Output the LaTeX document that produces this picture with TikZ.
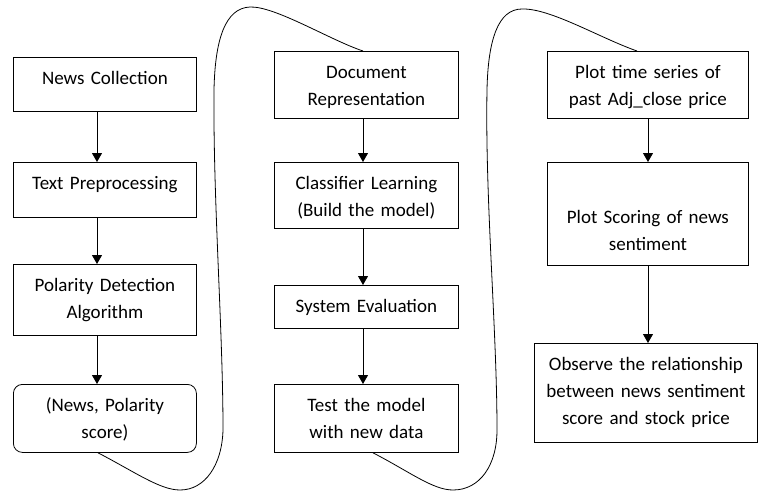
\documentclass[tikz,border=0pt]{standalone}
\usepackage{fontspec}
\setmainfont{Carlito}
\usetikzlibrary{arrows.meta}
\tikzset{
	flowbox/.style={draw, line width=0.8pt, inner xsep=0pt, inner ysep=0pt, align=center, text height=27.5pt, font=\fontsize{19}{26.7}\selectfont},
	flow/.style={-{Triangle[length=9pt,width=10pt]}, line width=0.8pt},
	loopline/.style={line width=0.8pt}
}
\newcommand{\flowbox}[7][]{
	\pgfmathsetmacro{\boxdepth}{#6-27.5}
	\node[flowbox, text width=#5pt, text depth=\boxdepth pt, #1, anchor=north west] (#2) at (#3, -#4) {#7};
}

\begin{document}
\begin{tikzpicture}[x=1pt, y=1pt]
			\useasboundingbox (0,0) rectangle (758,-491);
			% first column
			\flowbox{nc}{13}{57}{183}{54}{News Collection}
			\flowbox{tp}{13}{162}{183}{55}{Text Preprocessing}
			\flowbox{pd}{13}{264}{183}{71}{Polarity Detection\\Algorithm}
			\flowbox[rounded corners=9pt]{ns}{13}{384}{183}{68}{(News, Polarity\\score)}
			% second column
			\flowbox{dr}{274}{51}{184}{67}{Document\\Representation}
			\flowbox{cl}{274}{162}{184}{66}{Classifier Learning\\(Build the model)}
			\flowbox{se}{274}{285}{184}{43}{System Evaluation}
			\flowbox{tm}{274}{384}{184}{68}{Test the model\\with new data}
			% third column
			\flowbox{pt}{547}{51}{201}{67}{Plot time series of\\past Adj\_close price}
			\flowbox[text height=61.5pt, text depth=41.5pt]{ps}{547}{162}{201}{103}{Plot Scoring of news\\sentiment}
			\flowbox{ob}{534}{343}{223}{99}{Observe the relationship\\between news sentiment\\score and stock price}
			% arrows
			\draw[flow] ([xshift=84pt]nc.south west) -- ([xshift=84pt]tp.north west);
			\draw[flow] ([xshift=84pt]tp.south west) -- ([xshift=84pt]pd.north west);
			\draw[flow] ([xshift=84pt]pd.south west) -- ([xshift=84pt]ns.north west);
			\draw[flow] ([xshift=89pt]dr.south west) -- ([xshift=89pt]cl.north west);
			\draw[flow] ([xshift=89pt]cl.south west) -- ([xshift=89pt]se.north west);
			\draw[flow] ([xshift=89pt]se.south west) -- ([xshift=89pt]tm.north west);
			\draw[flow] ([xshift=101pt]pt.south west) -- ([xshift=101pt]ps.north west);
			\draw[flow] ([xshift=101pt]ps.south west) -- ([xshift=114pt]ob.north west);
			% loops between the columns
			\draw[loopline] ([xshift=85pt]ns.south west) .. controls (135,-472) and (160,-490) .. (180,-490)
				.. controls (205,-490) and (222,-465) .. (223,-430)
				.. controls (223,-330) and (213,-200) .. (214,-90)
				.. controls (215,-40) and (225,-8) .. (250,-7)
				.. controls (275,-6) and (330,-40) .. ([xshift=89pt]dr.north west);
			\draw[loopline] ([xshift=99pt]tm.south west) .. controls (410,-472) and (433,-490) .. (453,-490)
				.. controls (480,-490) and (497,-465) .. (497,-430)
				.. controls (497,-330) and (485,-200) .. (487,-90)
				.. controls (488,-40) and (498,-9) .. (522,-9)
				.. controls (550,-8) and (600,-38) .. ([xshift=90pt]pt.north west);
\end{tikzpicture}
\end{document}
